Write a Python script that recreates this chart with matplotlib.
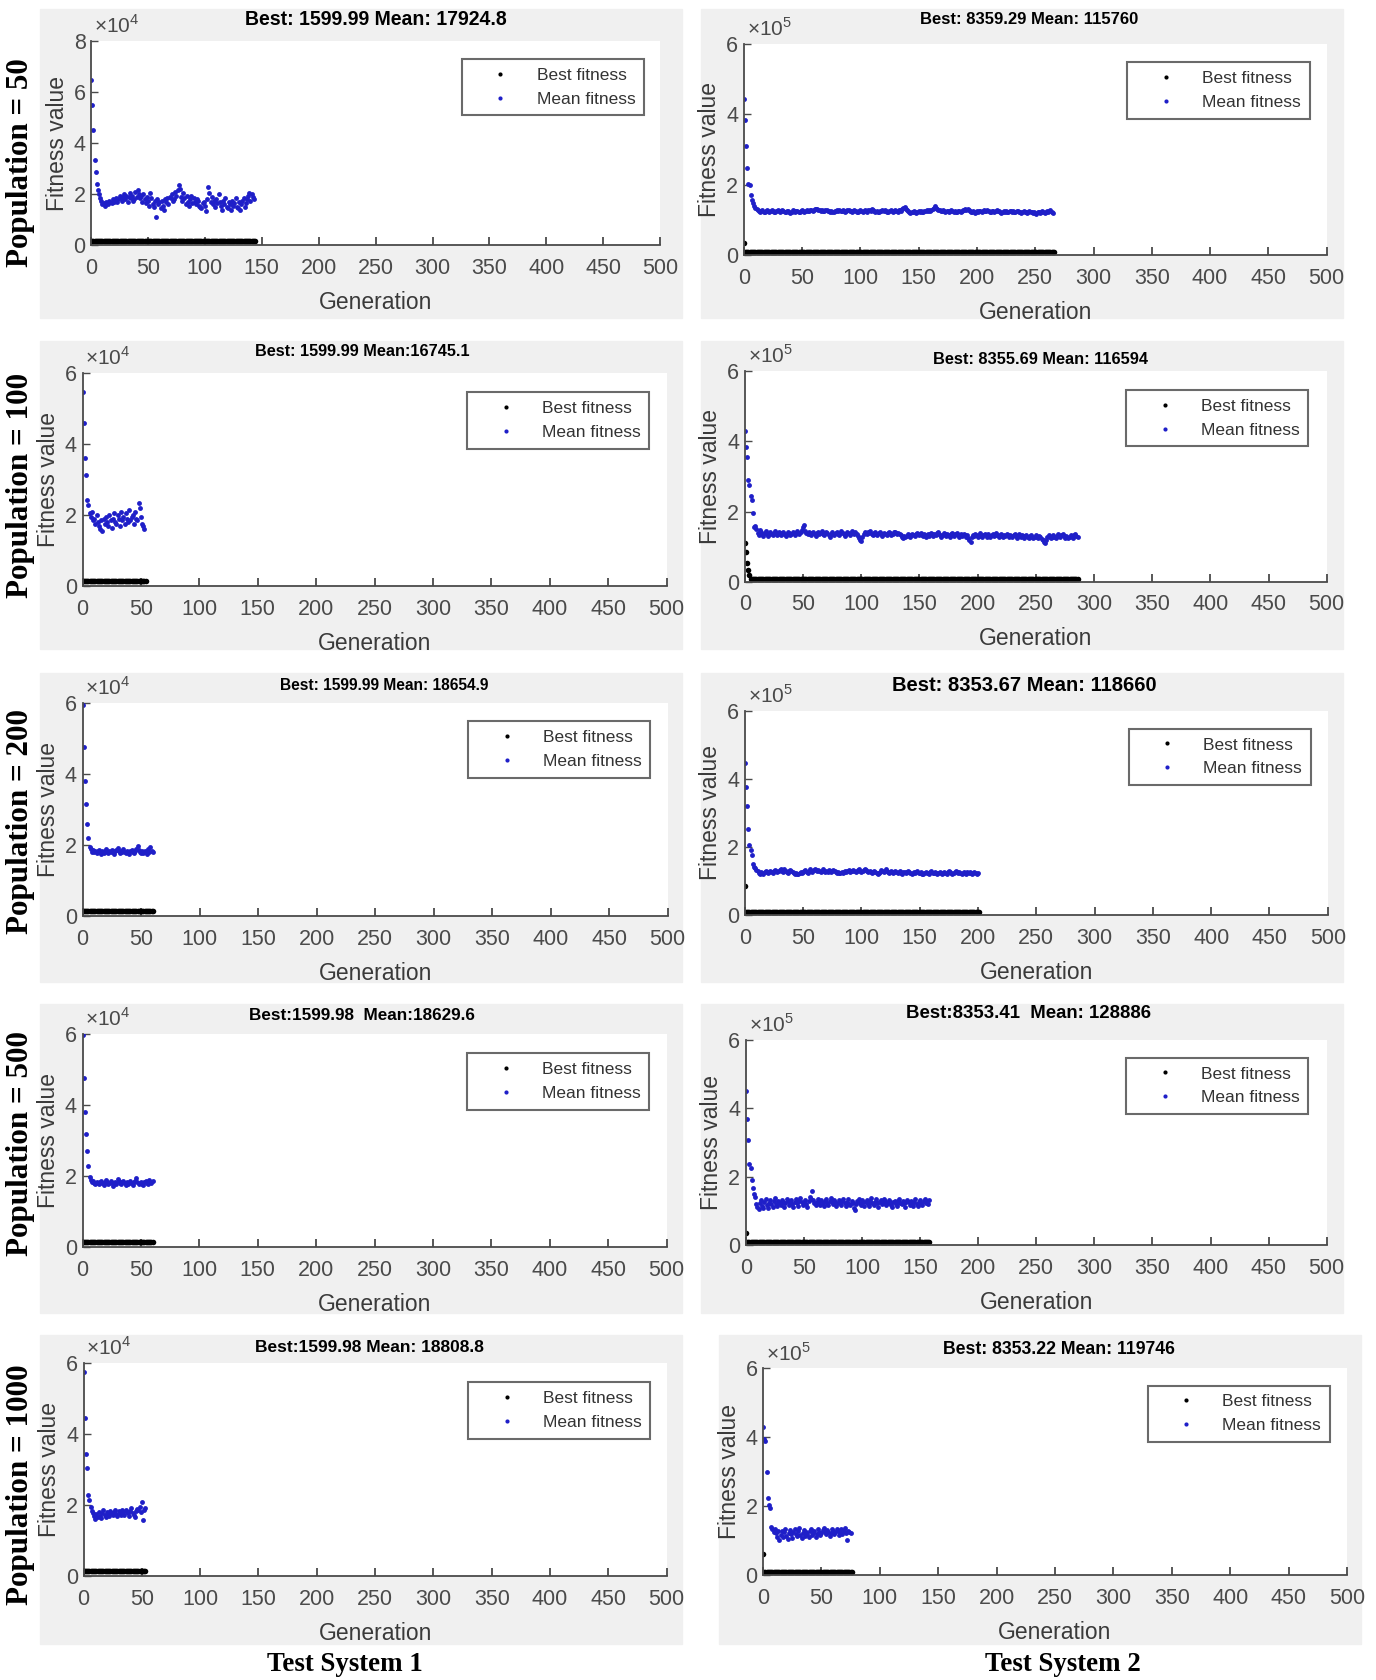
import numpy as np
import matplotlib
matplotlib.use("Agg")
import matplotlib.pyplot as plt
from matplotlib.patches import Rectangle
from matplotlib.lines import Line2D
from matplotlib import font_manager

# --- Mean fitness per generation ---
# Test System 1 values are in units of 1e4, Test System 2 in units of 1e5

mean_s1_p50 = [6.45, 5.5, 4.5, 3.35, 2.85, 2.4, 2.15, 2.0, 1.85, 1.75,
               1.6, 1.65, 1.55, 1.7, 1.65, 1.6, 1.75, 1.7, 1.65, 1.8,
               1.7, 1.75, 1.85, 1.7, 1.8, 1.95, 1.85, 1.75, 1.9, 2.0,
               1.8, 1.95, 1.7, 1.9, 2.05, 1.85, 1.95, 1.75, 1.8, 2.1,
               1.9, 2.15, 2.0, 1.85, 1.95, 1.7, 2.0, 1.8, 1.65, 1.9,
               1.75, 1.55, 2.05, 1.85, 1.6, 1.5, 1.75, 1.1, 1.8, 1.6,
               1.7, 1.45, 1.75, 1.55, 1.4, 1.8, 1.7, 1.85, 1.6, 1.9,
               1.85, 2.0, 1.75, 1.8, 2.1, 1.95, 2.15, 2.35, 2.2, 1.9,
               1.75, 2.05, 1.85, 1.6, 1.95, 1.7, 1.55, 1.8, 1.95, 1.65,
               1.85, 1.7, 1.6, 1.8, 1.75, 1.55, 1.5, 1.45, 1.65, 1.7,
               1.55, 1.35, 1.8, 2.3, 2.05, 1.7, 1.9, 1.6, 1.75, 1.5,
               1.8, 1.65, 2.0, 1.7, 1.55, 1.4, 1.75, 1.6, 1.85, 1.5,
               1.45, 1.7, 1.6, 1.4, 1.75, 1.55, 1.65, 1.85, 1.5, 1.45,
               1.7, 1.4, 1.6, 1.75, 1.85, 1.5, 1.65, 1.8, 1.95, 2.05,
               1.75, 2.0, 1.9, 1.8]

mean_s1_p100 = [5.45, 4.58, 3.62, 3.12, 2.42, 2.28, 2.05, 1.95, 2.1, 1.85,
                1.9, 1.75, 2.0, 1.8, 1.7, 1.6, 1.85, 1.55, 1.9, 1.75,
                1.95, 1.8, 1.7, 2.0, 1.85, 1.65, 1.9, 2.05, 1.8, 1.75,
                2.0, 1.9, 1.7, 2.1, 1.85, 1.95, 1.75, 2.05, 1.9, 1.8,
                2.15, 1.85, 1.95, 2.0, 1.75, 2.1, 1.9, 1.85, 2.35, 2.2,
                1.95, 1.75, 1.7, 1.6]

mean_s1_p200 = [5.95, 4.75, 3.8, 3.15, 2.6, 2.2, 1.95, 1.88, 1.82, 1.86,
                1.8, 1.84, 1.78, 1.83, 1.87, 1.81, 1.76, 1.85, 1.79, 1.83,
                1.88, 1.82, 1.77, 1.84, 1.8, 1.86, 1.81, 1.75, 1.83, 1.87,
                1.93, 1.85, 1.79, 1.84, 1.81, 1.88, 1.82, 1.78, 1.85, 1.8,
                1.76, 1.83, 1.87, 1.81, 1.79, 1.84, 1.9, 1.97, 1.86, 1.8,
                1.77, 1.83, 1.79, 1.85, 1.81, 1.76, 1.88, 1.82, 1.95, 1.84, 1.8]

mean_s1_p500 = [5.98, 4.78, 3.8, 3.2, 2.7, 2.3, 1.98, 1.9, 1.84, 1.88,
                1.82, 1.79, 1.85, 1.81, 1.77, 1.83, 1.87, 1.8, 1.76, 1.84,
                1.89, 1.83, 1.78, 1.82, 1.86, 1.8, 1.74, 1.81, 1.85, 1.79,
                1.92, 1.86, 1.8, 1.77, 1.83, 1.88, 1.81, 1.76, 1.84, 1.79,
                1.82, 1.86, 1.8, 1.75, 1.83, 1.87, 1.95, 1.84, 1.78, 1.81,
                1.85, 1.79, 1.76, 1.83, 1.87, 1.81, 1.77, 1.9, 1.84, 1.8, 1.86]

mean_s1_p1000 = [5.75, 4.45, 3.45, 3.04, 2.29, 2.15, 1.95, 1.85, 1.78, 1.7,
                 1.62, 1.75, 1.68, 1.82, 1.71, 1.64, 1.79, 1.86, 1.73, 1.67,
                 1.8, 1.76, 1.69, 1.84, 1.78, 1.72, 1.81, 1.87, 1.75, 1.7,
                 1.83, 1.79, 1.74, 1.86, 1.8, 1.73, 1.88, 1.82, 1.77, 1.71,
                 1.85, 1.92, 1.78, 1.74, 1.68, 1.83, 1.9, 1.86, 1.95, 1.81,
                 2.1, 1.6, 1.88, 1.93]

mean_s2_p50 = [4.43, 3.84, 3.10, 2.46, 2.03, 1.98, 1.71, 1.56, 1.47, 1.40,
               1.35, 1.30, 1.28, 1.25, 1.22, 1.24, 1.27, 1.23, 1.21, 1.25,
               1.28, 1.24, 1.22, 1.26, 1.29, 1.25, 1.23, 1.21, 1.24, 1.27,
               1.25, 1.22, 1.26, 1.28, 1.24, 1.21, 1.23, 1.26, 1.25, 1.22,
               1.20, 1.23, 1.27, 1.25, 1.22, 1.24, 1.26, 1.23, 1.21, 1.24,
               1.27, 1.25, 1.23, 1.26, 1.28, 1.25, 1.24, 1.27, 1.29, 1.26,
               1.28, 1.31, 1.30, 1.32, 1.29, 1.27, 1.25, 1.28, 1.26, 1.24,
               1.27, 1.29, 1.26, 1.24, 1.22, 1.25, 1.23, 1.21, 1.24, 1.26,
               1.28, 1.25, 1.27, 1.24, 1.26, 1.28, 1.25, 1.23, 1.26, 1.29,
               1.27, 1.24, 1.26, 1.22, 1.25, 1.28, 1.26, 1.23, 1.21, 1.25,
               1.27, 1.24, 1.22, 1.26, 1.28, 1.25, 1.23, 1.27, 1.29, 1.26,
               1.30, 1.27, 1.24, 1.22, 1.25, 1.21, 1.23, 1.26, 1.24, 1.27,
               1.25, 1.28, 1.26, 1.23, 1.21, 1.24, 1.27, 1.25, 1.22, 1.26,
               1.28, 1.25, 1.23, 1.27, 1.29, 1.26, 1.30, 1.33, 1.36, 1.31,
               1.28, 1.25, 1.22, 1.20, 1.23, 1.21, 1.24, 1.22, 1.20, 1.23,
               1.25, 1.22, 1.24, 1.21, 1.23, 1.26, 1.24, 1.27, 1.25, 1.28,
               1.26, 1.29, 1.31, 1.35, 1.38, 1.33, 1.30, 1.27, 1.29, 1.26,
               1.24, 1.27, 1.25, 1.22, 1.24, 1.26, 1.23, 1.25, 1.27, 1.24,
               1.22, 1.25, 1.23, 1.21, 1.24, 1.26, 1.23, 1.25, 1.27, 1.29,
               1.31, 1.28, 1.30, 1.27, 1.25, 1.23, 1.21, 1.24, 1.20, 1.22,
               1.25, 1.23, 1.26, 1.24, 1.22, 1.25, 1.27, 1.24, 1.26, 1.28,
               1.25, 1.23, 1.21, 1.24, 1.26, 1.23, 1.25, 1.28, 1.26, 1.24,
               1.22, 1.20, 1.23, 1.25, 1.22, 1.24, 1.21, 1.23, 1.26, 1.24,
               1.22, 1.25, 1.23, 1.21, 1.24, 1.26, 1.23, 1.21, 1.19, 1.22,
               1.24, 1.21, 1.23, 1.20, 1.22, 1.25, 1.23, 1.21, 1.19, 1.22,
               1.20, 1.18, 1.21, 1.23, 1.20, 1.22, 1.24, 1.21, 1.19, 1.22,
               1.24, 1.21, 1.25, 1.27, 1.22, 1.20]

mean_s2_p100 = [4.30, 3.83, 3.56, 2.90, 2.76, 2.45, 2.33, 1.95, 1.55, 1.58,
                1.50, 1.40, 1.33, 1.47, 1.42, 1.36, 1.30, 1.38, 1.44, 1.35,
                1.31, 1.37, 1.42, 1.36, 1.33, 1.40, 1.45, 1.38, 1.34, 1.41,
                1.37, 1.32, 1.39, 1.43, 1.36, 1.30, 1.35, 1.41, 1.38, 1.33,
                1.37, 1.42, 1.39, 1.34, 1.40, 1.45, 1.38, 1.35, 1.41, 1.47,
                1.55, 1.62, 1.44, 1.38, 1.35, 1.41, 1.37, 1.32, 1.39, 1.43,
                1.36, 1.31, 1.38, 1.42, 1.35, 1.40, 1.44, 1.37, 1.33, 1.39,
                1.43, 1.38, 1.34, 1.29, 1.36, 1.41, 1.37, 1.32, 1.38, 1.42,
                1.36, 1.33, 1.39, 1.44, 1.40, 1.35, 1.31, 1.37, 1.42, 1.38,
                1.34, 1.40, 1.45, 1.38, 1.35, 1.41, 1.36, 1.30, 1.25, 1.20,
                1.16, 1.28, 1.36, 1.42, 1.39, 1.35, 1.41, 1.38, 1.44, 1.37,
                1.33, 1.39, 1.42, 1.36, 1.32, 1.38, 1.41, 1.35, 1.30, 1.36,
                1.40, 1.37, 1.33, 1.38, 1.42, 1.39, 1.34, 1.37, 1.41, 1.43,
                1.38, 1.35, 1.40, 1.36, 1.32, 1.29, 1.26, 1.30, 1.27, 1.31,
                1.35, 1.32, 1.28, 1.33, 1.37, 1.34, 1.30, 1.35, 1.39, 1.36,
                1.32, 1.38, 1.34, 1.30, 1.36, 1.33, 1.29, 1.35, 1.31, 1.37,
                1.40, 1.35, 1.31, 1.37, 1.33, 1.38, 1.42, 1.36, 1.32, 1.29,
                1.34, 1.38, 1.35, 1.31, 1.36, 1.33, 1.29, 1.35, 1.39, 1.34,
                1.30, 1.35, 1.38, 1.33, 1.29, 1.34, 1.37, 1.31, 1.36, 1.32,
                1.28, 1.33, 1.25, 1.18, 1.12, 1.27, 1.34, 1.30, 1.36, 1.32,
                1.28, 1.34, 1.38, 1.31, 1.27, 1.33, 1.37, 1.32, 1.29, 1.35,
                1.31, 1.27, 1.33, 1.36, 1.30, 1.34, 1.38, 1.33, 1.28, 1.32,
                1.36, 1.31, 1.27, 1.33, 1.30, 1.35, 1.32, 1.28, 1.34, 1.31,
                1.27, 1.32, 1.36, 1.30, 1.26, 1.31, 1.35, 1.29, 1.33, 1.30,
                1.26, 1.31, 1.34, 1.29, 1.25, 1.30, 1.33, 1.28, 1.24, 1.29,
                1.33, 1.28, 1.25, 1.30, 1.27, 1.23, 1.18, 1.14, 1.10, 1.20,
                1.28, 1.32, 1.27, 1.24, 1.29, 1.33, 1.28, 1.25, 1.30, 1.35,
                1.31, 1.27, 1.32, 1.36, 1.30, 1.26, 1.31, 1.28, 1.24, 1.29,
                1.34, 1.30, 1.26, 1.33, 1.37, 1.31, 1.28]

mean_s2_p200 = [4.46, 3.76, 3.19, 2.54, 2.05, 1.90, 1.76, 1.51, 1.42, 1.38,
                1.33, 1.29, 1.25, 1.22, 1.27, 1.24, 1.21, 1.26, 1.30, 1.27,
                1.24, 1.28, 1.31, 1.27, 1.25, 1.29, 1.33, 1.30, 1.26, 1.29,
                1.32, 1.35, 1.31, 1.28, 1.34, 1.30, 1.27, 1.25, 1.29, 1.33,
                1.30, 1.27, 1.24, 1.21, 1.25, 1.22, 1.20, 1.24, 1.27, 1.23,
                1.26, 1.29, 1.32, 1.28, 1.25, 1.30, 1.34, 1.31, 1.27, 1.33,
                1.36, 1.32, 1.29, 1.33, 1.30, 1.27, 1.31, 1.34, 1.30, 1.28,
                1.31, 1.28, 1.32, 1.29, 1.26, 1.30, 1.33, 1.29, 1.27, 1.25,
                1.28, 1.25, 1.23, 1.26, 1.24, 1.27, 1.29, 1.26, 1.30, 1.32,
                1.28, 1.31, 1.29, 1.33, 1.30, 1.27, 1.29, 1.32, 1.34, 1.31,
                1.28, 1.30, 1.33, 1.36, 1.32, 1.29, 1.26, 1.30, 1.28, 1.24,
                1.27, 1.30, 1.26, 1.23, 1.21, 1.25, 1.28, 1.32, 1.29, 1.27,
                1.30, 1.34, 1.31, 1.28, 1.25, 1.29, 1.26, 1.23, 1.27, 1.30,
                1.26, 1.24, 1.27, 1.29, 1.25, 1.22, 1.26, 1.28, 1.24, 1.27,
                1.30, 1.26, 1.24, 1.21, 1.25, 1.28, 1.24, 1.26, 1.29, 1.25,
                1.23, 1.26, 1.22, 1.20, 1.24, 1.27, 1.23, 1.25, 1.22, 1.26,
                1.29, 1.25, 1.23, 1.27, 1.24, 1.21, 1.24, 1.27, 1.25, 1.22,
                1.25, 1.28, 1.24, 1.22, 1.26, 1.29, 1.26, 1.23, 1.20, 1.24,
                1.27, 1.30, 1.26, 1.23, 1.27, 1.24, 1.21, 1.25, 1.28, 1.24,
                1.22, 1.26, 1.23, 1.27, 1.25, 1.22, 1.25, 1.28, 1.24, 1.22, 1.25]

mean_s2_p500 = [4.49, 3.68, 3.06, 2.37, 2.24, 1.90, 1.66, 1.50, 1.40, 1.20,
                1.12, 1.05, 1.22, 1.31, 1.15, 1.08, 1.27, 1.35, 1.18, 1.10,
                1.24, 1.33, 1.19, 1.12, 1.28, 1.38, 1.21, 1.14, 1.30, 1.24,
                1.16, 1.33, 1.27, 1.11, 1.22, 1.36, 1.29, 1.17, 1.25, 1.32,
                1.20, 1.13, 1.27, 1.35, 1.23, 1.15, 1.30, 1.37, 1.26, 1.18,
                1.24, 1.33, 1.21, 1.12, 1.29, 1.40, 1.34, 1.58, 1.31, 1.22,
                1.16, 1.27, 1.36, 1.25, 1.18, 1.31, 1.24, 1.14, 1.28, 1.35,
                1.22, 1.17, 1.30, 1.38, 1.26, 1.19, 1.33, 1.27, 1.15, 1.23,
                1.32, 1.25, 1.17, 1.29, 1.36, 1.22, 1.14, 1.27, 1.34, 1.21,
                1.16, 1.30, 1.24, 1.09, 1.02, 1.19, 1.28, 1.35, 1.23, 1.17,
                1.31, 1.26, 1.14, 1.25, 1.33, 1.20, 1.15, 1.29, 1.37, 1.24,
                1.18, 1.27, 1.34, 1.22, 1.13, 1.26, 1.31, 1.19, 1.24, 1.35,
                1.28, 1.16, 1.23, 1.32, 1.26, 1.18, 1.11, 1.25, 1.30, 1.21,
                1.15, 1.28, 1.36, 1.24, 1.19, 1.29, 1.22, 1.13, 1.26, 1.33,
                1.25, 1.18, 1.30, 1.23, 1.15, 1.27, 1.34, 1.21, 1.14, 1.26,
                1.32, 1.24, 1.17, 1.29, 1.35, 1.22, 1.28, 1.19, 1.31]

mean_s2_p1000 = [4.30, 3.96, 3.90, 2.99, 2.23, 2.05, 1.94, 1.40, 1.33, 1.27,
                 1.35, 1.22, 1.12, 1.28, 1.03, 1.18, 1.30, 1.10, 1.25, 1.33,
                 1.15, 1.06, 1.24, 1.31, 1.19, 1.09, 1.27, 1.34, 1.21, 1.13,
                 1.29, 1.36, 1.17, 1.08, 1.23, 1.32, 1.14, 1.26, 1.20, 1.11,
                 1.28, 1.35, 1.18, 1.24, 1.30, 1.12, 1.21, 1.33, 1.26, 1.16,
                 1.23, 1.31, 1.37, 1.25, 1.19, 1.32, 1.27, 1.14, 1.22, 1.34,
                 1.29, 1.20, 1.26, 1.35, 1.30, 1.17, 1.25, 1.33, 1.21, 1.28,
                 1.36, 1.24, 1.03, 1.30, 1.26, 1.22]

# --- Best fitness: first generations that differ, then the final best held ---
best_s1 = 0.16      # 1599.99 / 1e4
best_s2 = 0.0836    # ~8355 / 1e5
best_start = [[], [0.35], [], [1.10, 0.86, 0.53, 0.34, 0.20], [], [0.86],
              [], [0.36], [], [0.62]]
best_ngen = [145, 267, 55, 287, 61, 202, 61, 159, 54, 77]

titles = ["Best: 1599.99 Mean: 17924.8", "Best: 8359.29 Mean: 115760",
          "Best: 1599.99 Mean:16745.1", "Best: 8355.69 Mean: 116594",
          "Best: 1599.99 Mean: 18654.9", "Best: 8353.67 Mean: 118660",
          "Best:1599.98  Mean:18629.6", "Best:8353.41  Mean: 128886",
          "Best:1599.98 Mean: 18808.8", "Best: 8353.22 Mean: 119746"]
pop_labels = ["Population = 50", "Population = 100", "Population = 200",
              "Population = 500", "Population = 1000"]
col_labels = ["Test System 1", "Test System 2"]

means = [mean_s1_p50, mean_s2_p50, mean_s1_p100, mean_s2_p100,
         mean_s1_p200, mean_s2_p200, mean_s1_p500, mean_s2_p500,
         mean_s1_p1000, mean_s2_p1000]

# --- Layout, measured on the reference (1284 px wide copy) ---
S = 1376 / 1284
W, H = 1376, 1680
ax_boxes = [(85, 616, 38, 229), (694, 1238, 41, 238),
            (77, 622, 348, 547), (695, 1238, 346, 543),
            (77, 623, 656, 855), (695, 1239, 663, 854),
            (77, 622, 965, 1164), (696, 1238, 970, 1162),
            (78, 622, 1272, 1471), (712, 1257, 1277, 1470)]
bg_boxes = [(37, 636, 8, 297), (654, 1253, 8, 297),
            (37, 636, 318, 606), (654, 1253, 318, 606),
            (37, 636, 628, 916), (654, 1253, 628, 916),
            (37, 636, 937, 1225), (654, 1253, 937, 1225),
            (37, 636, 1246, 1534), (671, 1270, 1246, 1534)]
leg_corner = [(601, 55), (1222, 58), (606, 366), (1221, 364), (607, 673),
              (1223, 680), (606, 983), (1221, 987), (607, 1290), (1241, 1293)]
title_pos = [(351, 18, 246), (960, 18, 205), (338, 328, 200), (971, 335, 202),
             (359, 640, 196), (956, 640, 248), (338, 948, 211), (960, 946, 230),
             (345, 1257, 214), (988, 1259, 217)]
pop_pos = [(19, 152, 195), (19, 453, 210), (19, 767, 210), (19, 1067, 210),
           (19, 1385, 225)]
col_pos = [(322, 1553, 145), (992, 1553, 145)]

names = {f.name for f in font_manager.fontManager.ttflist}
NARROW = "Liberation Sans Narrow" if "Liberation Sans Narrow" in names else "Liberation Sans"
plt.rcParams['font.family'] = [NARROW, 'DejaVu Sans']
plt.rcParams['mathtext.fontset'] = 'custom'
plt.rcParams['mathtext.rm'] = NARROW

GREY = '#4a4a4a'
BLUE = '#1f1fc8'

fig = plt.figure(figsize=(W / 100, H / 100), dpi=100)
renderer = fig.canvas.get_renderer()


def fx(p):
    return p * S / W


def fy(p):
    return 1 - p * S / H


def fit(t, target, vertical=False):
    bb = t.get_window_extent(renderer)
    cur = bb.height if vertical else bb.width
    t.set_fontsize(t.get_fontsize() * target * S / cur)


for i in range(10):
    col = i % 2
    bx0, bx1, by0, by1 = bg_boxes[i]
    fig.add_artist(Rectangle((fx(bx0), fy(by1)), fx(bx1) - fx(bx0), fy(by0) - fy(by1),
                             transform=fig.transFigure, color='#f0f0f0', zorder=0))
    x0, x1, yt, yb = ax_boxes[i]
    ax = fig.add_axes([fx(x0), fy(yb), fx(x1) - fx(x0), fy(yt) - fy(yb)])
    axw = (x1 - x0) * S
    axh = (yb - yt) * S

    mean = np.array(means[i])
    best = np.array(best_start[i] + [best_s1 if col == 0 else best_s2] * (best_ngen[i] - len(best_start[i])))
    ax.plot(np.arange(len(best)), best, ls='none', marker='o', ms=4.0, mew=0, color='k',
            label='Best fitness')
    ax.plot(np.arange(len(mean)), mean, ls='none', marker='o', ms=3.5, mew=0, color=BLUE,
            label='Mean fitness')

    ymax = 8 if i == 0 else 6
    ax.set_xlim(0, 500)
    ax.set_ylim(0, ymax)
    ax.set_xticks(np.arange(0, 501, 50))
    ax.set_yticks(np.arange(0, ymax + 1, 2))
    for s in ['top', 'right']:
        ax.spines[s].set_visible(False)
    for s in ['left', 'bottom']:
        ax.spines[s].set_color(GREY)
        ax.spines[s].set_linewidth(1.3)
    ax.tick_params(axis='x', direction='in', length=6, width=1.3, colors=GREY,
                   labelsize=15.5, pad=9)
    ax.tick_params(axis='y', direction='in', length=5, width=1.0, colors=GREY,
                   labelsize=15.5, pad=4)

    ax.annotate(r'$\times10^{%d}$' % (4 if col == 0 else 5), xy=(0, 1), xycoords='axes fraction',
                xytext=(2, 3), textcoords='offset points', ha='left', va='bottom',
                fontsize=15, color=GREY)

    ax.set_xlabel('Generation', fontsize=16.5, color='#3a3a3a')
    ax.xaxis.set_label_coords(0.5, -57 / axh)
    ax.xaxis.label.set_va('center')
    ax.set_ylabel('Fitness value', fontsize=16.5, color='#3a3a3a', family='Liberation Sans')
    ax.yaxis.set_label_coords(-34 / axw, 0.5)
    ax.yaxis.label.set_va('center')

    handles = [Line2D([], [], ls='none', marker='o', ms=3, mew=0, color='k'),
               Line2D([], [], ls='none', marker='o', ms=3, mew=0, color=BLUE)]
    lx, ly = leg_corner[i]
    leg = ax.legend(handles, ['Best fitness', 'Mean fitness'], loc='upper right',
                    bbox_to_anchor=(fx(lx), fy(ly)), bbox_transform=fig.transFigure,
                    borderaxespad=0, fontsize=12.5, frameon=True, fancybox=False,
                    framealpha=1, edgecolor='#6a6a6a', borderpad=0.5, labelspacing=0.5,
                    handlelength=3.4, handletextpad=0.4)
    leg.get_frame().set_linewidth(1.5)
    for t in leg.get_texts():
        t.set_color('#333333')

    tx, ty, tw = title_pos[i]
    t = fig.text(fx(tx), fy(ty), titles[i], ha='center', va='center',
                 fontsize=15, fontweight='bold', color='k')
    fit(t, tw)

for k, (px, py, ph) in enumerate(pop_pos):
    t = fig.text(fx(px), fy(py), pop_labels[k], rotation=90, ha='center', va='center',
                 fontsize=21, fontweight='bold', family='Liberation Serif')
    fit(t, ph, vertical=True)

for k, (px, py, pw) in enumerate(col_pos):
    t = fig.text(fx(px), fy(py), col_labels[k], ha='center', va='center',
                 fontsize=19, fontweight='bold', family='Liberation Serif')
    fit(t, pw)

fig.savefig('out.png', dpi=100, facecolor='white')
